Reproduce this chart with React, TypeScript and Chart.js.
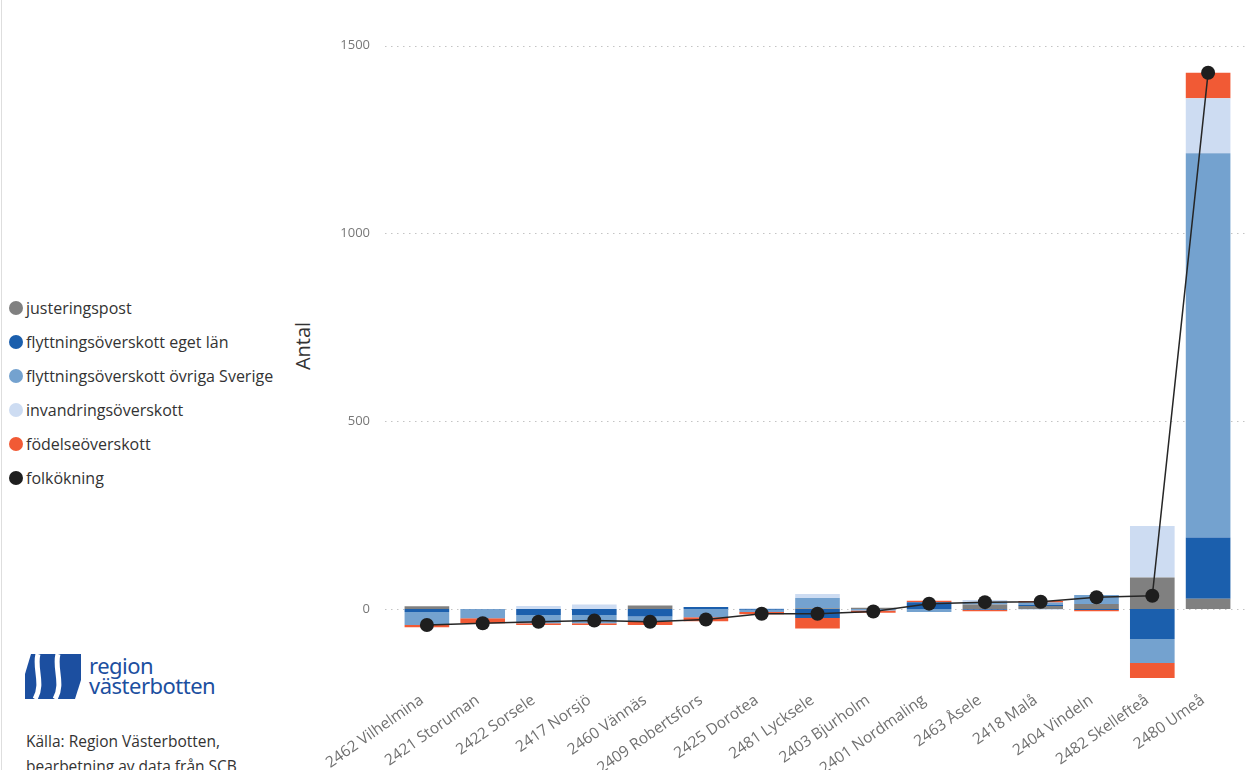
import React, { useEffect, useRef } from "react";
import { Chart, registerables } from "chart.js";

Chart.register(...registerables);

const categories = [
  "2462 Vilhelmina",
  "2421 Storuman",
  "2422 Sorsele",
  "2417 Norsjö",
  "2460 Vännäs",
  "2409 Robertsfors",
  "2425 Dorotea",
  "2481 Lycksele",
  "2403 Bjurholm",
  "2401 Nordmaling",
  "2463 Åsele",
  "2418 Malå",
  "2404 Vindeln",
  "2482 Skellefteå",
  "2480 Umeå",
];

const justeringspost = [7, 0, 0, 0, 9, 0, 0, 2, 3, 0, 12, 8, 13, 84, 27];
const egetLan = [-8, -1, -16, -16, -20, 5, -2, -24, 0, 18, -2, 3, -3, -80, 163];
const ovrigaSverige = [-35, -24, -22, -22, -13, -22, -6, 27, -4, -8, 6, 6, 24, -64, 1024];
const invandring = [0, 0, 8, 12, 0, 0, 2, 11, 0, 0, 6, -2, 0, 137, 146];
const fodelse = [-6, -13, -5, -5, -10, -11, -6, -28, -6, 4, -4, 4, -3, -40, 68];
const folkokning = [-43, -38, -34, -31, -34, -28, -13, -13, -7, 14, 18, 19, 31, 35, 1428];

const yTicks = [0, 500, 1000, 1500];

const seriesNames = [
  "justeringspost",
  "flyttningsöverskott eget län",
  "flyttningsöverskott övriga Sverige",
  "invandringsöverskott",
  "födelseöverskott",
  "folkökning",
];
const seriesColors = ["#808080", "#1b5fad", "#74a2cf", "#cddcf2", "#f15a35", "#1e1e1e"];

const gridPlugin = {
  id: "dottedGrid",
  beforeDatasetsDraw(chart: any) {
    const { ctx, chartArea, scales } = chart;
    const y = scales.y;
    ctx.save();
    ctx.strokeStyle = "#c4c4c4";
    ctx.lineWidth = 1;
    ctx.setLineDash([1.5, 4.5]);
    yTicks.forEach((v) => {
      const py = Math.round(y.getPixelForValue(v)) + 0.5;
      ctx.beginPath();
      ctx.moveTo(chartArea.left - 14, py);
      ctx.lineTo(chartArea.right + 9, py);
      ctx.stroke();
    });
    ctx.restore();
  },
};

function ChartCanvas() {
  const ref = useRef<HTMLCanvasElement | null>(null);
  useEffect(() => {
    if (!ref.current) return;
    const barSets = [justeringspost, egetLan, ovrigaSverige, invandring, fodelse].map((d, i) => ({
      type: "bar" as const,
      label: seriesNames[i],
      data: d,
      backgroundColor: seriesColors[i],
      borderWidth: 0,
      stack: "bars",
      order: 1,
      barPercentage: 0.8,
      categoryPercentage: 1.0,
    }));
    const chart = new Chart(ref.current, {
      type: "bar",
      data: {
        labels: categories,
        datasets: [
          ...barSets,
          {
            type: "line" as const,
            label: seriesNames[5],
            data: folkokning,
            borderColor: "#262626",
            borderWidth: 1.5,
            pointRadius: 7,
            pointBackgroundColor: "#1e1e1e",
            pointBorderWidth: 0,
            stack: "folk",
            order: 0,
            tension: 0,
          } as any,
        ],
      },
      options: {
        animation: false,
        responsive: true,
        maintainAspectRatio: false,
        layout: { padding: { top: 27, right: 9, left: 0, bottom: 0 } },
        plugins: {
          legend: { display: false },
          tooltip: { enabled: false },
        },
        scales: {
          x: {
            stacked: true,
            grid: { display: false, drawTicks: false },
            border: { display: false },
            ticks: {
              autoSkip: false,
              minRotation: 35,
              maxRotation: 35,
              padding: 7,
              labelOffset: -5,
              color: "#707070",
              font: { family: "'Open Sans'", size: 15.5 },
            },
            afterFit: (scale: any) => {
              scale.height = 86;
            },
          },
          y: {
            stacked: true,
            min: -200,
            max: 1550,
            grid: { display: false, drawTicks: false },
            border: { display: false },
            afterBuildTicks: (scale: any) => {
              scale.ticks = yTicks.map((v) => ({ value: v }));
            },
            afterFit: (scale: any) => {
              scale.width = 109;
              scale.paddingTop = 0;
              scale.paddingBottom = 0;
            },
            ticks: {
              padding: 29,
              color: "#777777",
              font: { family: "'Open Sans'", size: 13 },
              callback: (v: any) => String(v),
            },
          },
        },
      },
      plugins: [gridPlugin],
    });
    return () => chart.destroy();
  }, []);
  return <canvas ref={ref} />;
}

function Logo() {
  return (
    <div style={{ position: "absolute", left: 25, top: 654, display: "flex", alignItems: "center" }}>
      <svg width="56" height="45" viewBox="0 0 56 45">
        <rect x="0" y="0" width="56" height="45" fill="#1c4fa0" />
        <path d="M13,0 C9,14 19,30 10,45" stroke="#ffffff" strokeWidth="5" fill="none" />
        <path d="M33,0 C29,14 39,30 30,45" stroke="#ffffff" strokeWidth="5" fill="none" />
        <path d="M0,0 L6,0 L0,20 Z" fill="#ffffff" />
        <path d="M56,45 L50,45 L56,26 Z" fill="#ffffff" />
      </svg>
      <div
        style={{
          marginLeft: 8,
          color: "#1c4fa0",
          fontFamily: "'Noto Sans'",
          fontSize: 22,
          lineHeight: "20px",
          letterSpacing: -0.5,
          marginTop: -4,
        }}
      >
        <div>region</div>
        <div>västerbotten</div>
      </div>
    </div>
  );
}

export default function App() {
  return (
    <div
      style={{
        position: "fixed",
        left: 0,
        top: 0,
        width: 1245,
        height: 770,
        background: "#ffffff",
        overflow: "hidden",
        fontFamily: "'Open Sans'",
      }}
    >
      <div style={{ position: "absolute", left: 1, top: 0, width: 1, height: 770, background: "#dedede" }} />
      <div style={{ position: "absolute", left: 9, top: 291 }}>
        {seriesNames.map((n, i) => (
          <div
            key={n}
            style={{ display: "flex", alignItems: "center", height: 34, color: "#333333", fontSize: 16 }}
          >
            <span
              style={{
                display: "inline-block",
                width: 14,
                height: 14,
                borderRadius: "50%",
                background: seriesColors[i],
                marginRight: 3,
              }}
            />
            <span>{n}</span>
          </div>
        ))}
      </div>
      <div
        style={{
          position: "absolute",
          left: 303,
          top: 346,
          transform: "translate(-50%, -50%) rotate(-90deg)",
          color: "#333333",
          fontSize: 20,
          whiteSpace: "nowrap",
          lineHeight: "24px",
        }}
      >
        Antal
      </div>
      <Logo />
      <div
        style={{
          position: "absolute",
          left: 26,
          top: 729,
          color: "#333333",
          fontSize: 15.5,
          lineHeight: "25px",
        }}
      >
        <div>Källa: Region Västerbotten,</div>
        <div>bearbetning av data från SCB</div>
      </div>
      <div style={{ position: "absolute", left: 290, top: 0, width: 955, height: 770 }}>
        <ChartCanvas />
      </div>
    </div>
  );
}
